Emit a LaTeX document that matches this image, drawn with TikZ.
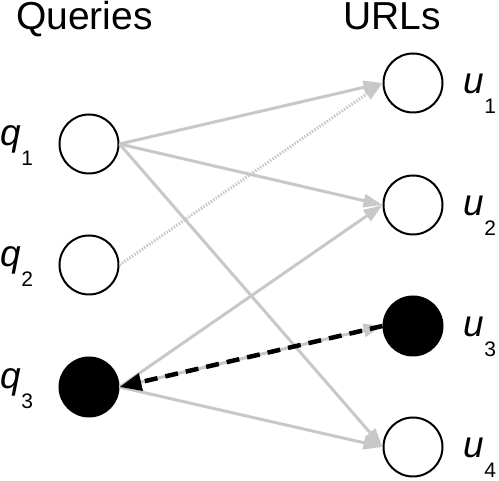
\documentclass[tikz,border=0pt]{standalone}
\usepackage{fontspec}
\setmainfont{Liberation Sans}
\usetikzlibrary{arrows.meta}
\tikzset{
  vert/.style={circle,draw=black,line width=2pt,minimum size=59pt,inner sep=0pt},
  filled/.style={vert,fill=black},
  edge/.style={draw=linkgray,line width=3pt,-{Triangle[length=19pt,width=13pt]}},
  dotedge/.style={edge,dash pattern=on 1.5pt off 1.5pt},
  back/.style={draw=black,line width=4.5pt,dash pattern=on 13pt off 8pt,-{Triangle[length=22pt,width=17pt]}},
  lbl/.style={anchor=base west,inner sep=0pt,font=\fontsize{37}{37}\selectfont},
  head/.style={anchor=base west,inner sep=0pt,font=\fontsize{39}{39}\selectfont}
}
\definecolor{linkgray}{RGB}{200,200,200}
\newcommand{\sublbl}[2]{\textit{#1}\kern0.5pt\raisebox{-20pt}{\fontsize{21}{21}\selectfont #2}}
\begin{document}
\begin{tikzpicture}[x=1pt,y=1pt]
\useasboundingbox (0,0) rectangle (499,481);
\node[head] (hq) at (16,451) {Queries};
\node[head] (hu) at (343,451) {URLs};
\node[vert] (q1) at (89,337) {};
\node[vert] (q2) at (89,216) {};
\node[filled] (q3) at (89,94) {};
\node[vert] (u1) at (413,398) {};
\node[vert] (u2) at (413,276) {};
\node[filled] (u3) at (413,155) {};
\node[vert] (u4) at (413,34) {};
\node[lbl] (lq1) at (0,335) {\sublbl{q}{1}};
\node[lbl] (lq2) at (0,214) {\sublbl{q}{2}};
\node[lbl] (lq3) at (0,92) {\sublbl{q}{3}};
\node[lbl] (lu1) at (463,387) {\sublbl{u}{1}};
\node[lbl] (lu2) at (463,265) {\sublbl{u}{2}};
\node[lbl] (lu3) at (463,144) {\sublbl{u}{3}};
\node[lbl] (lu4) at (463,23) {\sublbl{u}{4}};
\draw[edge] (q1.east) -- (u1.west);
\draw[edge] (q1.east) -- (u2.west);
\draw[edge] (q1.east) -- (u4.west);
\draw[dotedge] (q2.east) -- (u1.west);
\draw[edge] (q3.east) -- (u2.west);
\draw[edge] (q3.east) -- (u4.west);
\draw[edge] (q3.east) -- (u3.west);
\draw[back] (u3.west) -- (q3.east);
\end{tikzpicture}
\end{document}
